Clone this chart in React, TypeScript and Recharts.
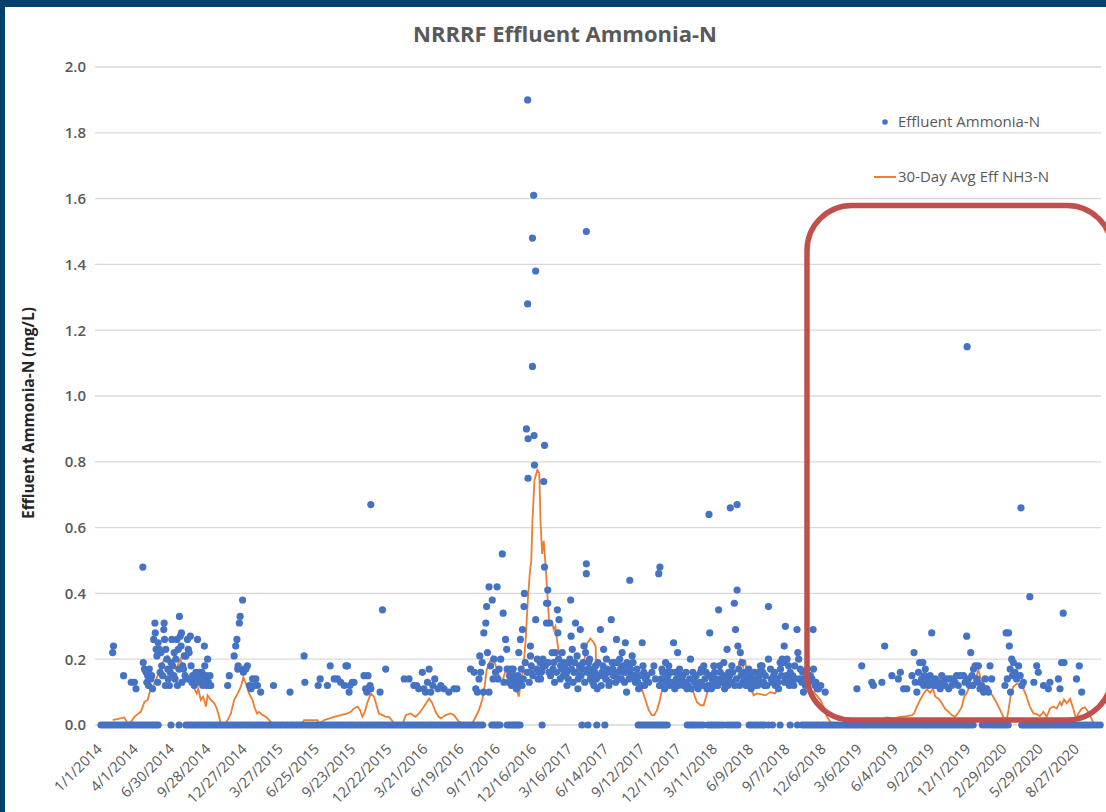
import React from "react";
import { ComposedChart, Scatter, Line, XAxis, YAxis, CartesianGrid, Legend } from "recharts";

// x = days since 1/1/2014, y = mg/L
const tickDays = [0, 90, 180, 270, 360, 450, 540, 630, 720, 810, 900, 990, 1080, 1170, 1260, 1350, 1440, 1530, 1620, 1710, 1800, 1890, 1980, 2070, 2160, 2250, 2340, 2430];
const tickLabels = ["1/1/2014", "4/1/2014", "6/30/2014", "9/28/2014", "12/27/2014", "3/27/2015", "6/25/2015", "9/23/2015", "12/22/2015", "3/21/2016", "6/19/2016", "9/17/2016", "12/16/2016", "3/16/2017", "6/14/2017", "9/12/2017", "12/11/2017", "3/11/2018", "6/9/2018", "9/7/2018", "12/6/2018", "3/6/2019", "6/4/2019", "9/2/2019", "12/1/2019", "2/29/2020", "5/29/2020", "8/27/2020"];
const yTicks = [0, 0.2, 0.4, 0.6, 0.8, 1.0, 1.2, 1.4, 1.6, 1.8, 2.0];

const zeroDays = [0, 12, 24, 36, 48, 60, 72, 84, 96, 108, 120, 131, 142, 174, 194,
  211, 223, 236, 248, 261, 273, 286, 298, 311, 323, 336, 348, 361, 373, 386, 398, 411, 423, 436, 448, 461, 473, 486, 498, 511, 523, 536, 548, 561, 573, 586, 598, 611, 623, 636, 648, 661, 673, 686, 698, 711, 723, 736, 748, 761, 773, 786, 798, 811, 823, 836, 848, 861, 873, 886, 898, 911, 923, 936, 949,
  972, 982, 992, 1010, 1022, 1032, 1042, 1097,
  1196, 1211, 1233, 1253,
  1336, 1348, 1360, 1372, 1384, 1396, 1408,
  1458, 1470, 1483, 1497, 1509, 1521, 1534, 1547, 1557, 1570, 1584,
  1612, 1625, 1638, 1650, 1670, 1689, 1714, 1732,
  1744, 1756, 1769, 1781, 1794, 1806, 1819, 1831, 1844, 1856, 1869, 1881, 1894, 1906, 1919, 1931, 1944, 1956, 1969, 1981, 1994, 2006, 2019, 2031, 2044, 2056, 2069, 2081, 2094, 2106, 2119, 2131, 2144, 2156, 2169, 2192, 2206, 2219, 2231, 2244, 2256, 2290, 2300, 2311, 2322, 2333, 2344, 2356, 2369, 2381, 2394, 2406, 2419, 2431, 2444, 2456, 2469, 2485];

const zeroDaysMore = [6, 18, 30, 42, 54, 66, 78, 90, 102, 114, 126, 137,
  217, 229, 242, 254, 267, 279, 292, 304, 317, 329, 342, 354, 367, 379, 392, 404, 417, 429, 442, 454, 467, 479, 492, 504, 517, 529, 542, 554, 567, 579, 592, 604, 617, 629, 642, 654, 667, 679, 692, 704, 717, 729, 742, 754, 767, 779, 792, 804, 817, 829, 842, 854, 867, 879, 892, 904, 917, 929, 942,
  977, 987, 1016, 1027, 1037,
  1342, 1354, 1366, 1378, 1390, 1402,
  1464, 1476, 1490, 1515, 1527, 1540, 1563, 1577,
  1618, 1631, 1644, 1660,
  1750, 1762, 1775, 1787, 1800, 1812, 1825, 1837, 1850, 1862, 1875, 1887, 1900, 1912, 1925, 1937, 1950, 1962, 1975, 1987, 2000, 2012, 2025, 2037, 2050, 2062, 2075, 2087, 2100, 2112, 2125, 2137, 2150, 2162, 2199, 2212, 2225, 2237, 2250, 2295, 2305, 2316, 2327, 2338, 2350, 2362, 2375, 2387, 2400, 2412, 2425, 2437, 2450, 2462, 2477];

const ammonia2014 = [[29,0.22],[31,0.24],[56,0.15],[75,0.13],[83,0.13],[87,0.11],[104,0.48],[105,0.19],[108,0.17],[112,0.16],[114,0.13],[116,0.15],[118,0.12],[120,0.17],[124,0.14],[126,0.15],[128,0.11],[131,0.26],[134,0.31],[135,0.28],[137,0.23],[139,0.21],[141,0.13],[142,0.25],[145,0.23],[147,0.16],[149,0.22],[151,0.18],[153,0.15],[156,0.29],[157,0.31],[158,0.26],[160,0.12],[161,0.23],[164,0.2],[166,0.17],[167,0.14],[170,0.12],[172,0.16],[174,0.19],[176,0.26],[178,0.18],[181,0.15],[182,0.22],[184,0.14],[186,0.2],[189,0.26],[190,0.12],[192,0.23],[194,0.17],[195,0.33],[197,0.27],[199,0.24],[200,0.28],[201,0.13],[203,0.18],[205,0.17],[207,0.21],[209,0.15],[211,0.21],[213,0.14],[215,0.26],[217,0.23],[219,0.22],[222,0.27],[224,0.18],[226,0.13],[228,0.15],[232,0.12],[234,0.14],[236,0.16],[240,0.26],[244,0.16],[246,0.13],[248,0.15],[251,0.16],[253,0.12],[255,0.14],[257,0.24],[258,0.18],[261,0.15],[263,0.12],[265,0.2],[267,0.13],[269,0.12],[271,0.15],[273,0.12],[315,0.12],[319,0.15],[331,0.21],[335,0.24],[338,0.26],[340,0.17],[341,0.18],[344,0.31],[346,0.33],[352,0.38],[354,0.16],[356,0.17],[360,0.17],[364,0.18]];

const ammonia2015 = [[369,0.12],[373,0.11],[377,0.14],[381,0.12],[385,0.14],[389,0.12],[397,0.1],[429,0.12],[470,0.1],[505,0.21],[507,0.13],[540,0.12],[545,0.14],[563,0.12],[570,0.18],[580,0.14],[588,0.14],[596,0.13],[605,0.12],[609,0.18],[613,0.18],[617,0.1],[619,0.12],[625,0.13],[629,0.13],[654,0.15],[658,0.11],[661,0.1],[664,0.15],[669,0.12],[671,0.11],[671,0.67],[694,0.1],[700,0.35],[708,0.17]];

const ammonia2016 = [[754,0.14],[766,0.14],[778,0.12],[785,0.12],[790,0.11],[799,0.16],[803,0.11],[807,0.1],[812,0.13],[816,0.17],[820,0.1],[825,0.12],[830,0.14],[838,0.11],[845,0.12],[853,0.11],[865,0.1],[878,0.11],[885,0.11],[919,0.17],[928,0.16],[932,0.11],[936,0.1],[940,0.14],[942,0.21],[944,0.16],[948,0.19],[951,0.1],[952,0.28],[957,0.31],[959,0.36],[961,0.22],[965,0.1],[965,0.42],[969,0.18],[973,0.38],[975,0.14],[977,0.2],[981,0.16],[985,0.42],[987,0.14],[990,0.17],[994,0.2],[998,0.52],[1000,0.34],[1002,0.13],[1006,0.26],[1009,0.23],[1010,0.17],[1014,0.13],[1016,0.15],[1019,0.17],[1021,0.12],[1023,0.13],[1025,0.17],[1027,0.15],[1029,0.14],[1031,0.12],[1033,0.11],[1035,0.13],[1037,0.15],[1039,0.22],[1041,0.13],[1043,0.26],[1045,0.17],[1047,0.12],[1048,0.29],[1050,0.14],[1052,0.36],[1053,0.4],[1055,0.19],[1058,0.9],[1060,0.16],[1061,1.9],[1061,1.28],[1062,0.87],[1062,0.75],[1065,0.13],[1068,0.24],[1068,0.21],[1068,0.16],[1070,0.18],[1073,1.48],[1073,1.09],[1074,0.15],[1076,1.61],[1077,0.88],[1078,0.79],[1081,1.38],[1081,0.32],[1083,0.17],[1085,0.2],[1087,0.14],[1089,0.16],[1092,0.19],[1093,0.14],[1095,0.16]];

const ammonia2017 = [[1097,0.17],[1099,0.2],[1101,0.74],[1103,0.85],[1103,0.48],[1105,0.18],[1108,0.37],[1108,0.31],[1111,0.41],[1111,0.37],[1112,0.19],[1114,0.16],[1116,0.31],[1118,0.15],[1122,0.22],[1124,0.17],[1126,0.19],[1128,0.13],[1130,0.22],[1133,0.16],[1135,0.35],[1136,0.28],[1138,0.2],[1139,0.32],[1142,0.14],[1143,0.18],[1146,0.17],[1147,0.22],[1150,0.15],[1151,0.19],[1154,0.18],[1155,0.15],[1158,0.16],[1159,0.12],[1162,0.14],[1164,0.19],[1166,0.2],[1168,0.38],[1169,0.27],[1170,0.17],[1172,0.23],[1174,0.13],[1176,0.16],[1178,0.19],[1180,0.31],[1182,0.16],[1184,0.21],[1186,0.11],[1187,0.14],[1190,0.18],[1192,0.29],[1194,0.15],[1197,0.17],[1199,0.19],[1201,0.24],[1203,0.13],[1205,0.22],[1207,0.46],[1207,0.49],[1207,1.5],[1209,0.16],[1211,0.17],[1213,0.19],[1215,0.2],[1217,0.14],[1219,0.15],[1221,0.17],[1223,0.13],[1226,0.12],[1228,0.16],[1230,0.18],[1232,0.14],[1234,0.11],[1236,0.19],[1240,0.15],[1242,0.29],[1244,0.12],[1246,0.16],[1248,0.18],[1250,0.23],[1252,0.15],[1255,0.14],[1257,0.2],[1259,0.17],[1261,0.16],[1263,0.12],[1265,0.13],[1269,0.32],[1271,0.19],[1273,0.17],[1275,0.15],[1277,0.19],[1280,0.13],[1282,0.26],[1284,0.19],[1286,0.16],[1288,0.14],[1290,0.2],[1292,0.17],[1294,0.14],[1296,0.22],[1298,0.18],[1300,0.16],[1302,0.13],[1304,0.25],[1306,0.16],[1307,0.1],[1308,0.19],[1311,0.18],[1313,0.14],[1315,0.44],[1317,0.17],[1319,0.15],[1321,0.21],[1323,0.19],[1325,0.15],[1327,0.14],[1329,0.13],[1331,0.15],[1333,0.17],[1335,0.13],[1337,0.11],[1340,0.15],[1344,0.12],[1346,0.25],[1348,0.18],[1350,0.16],[1352,0.12],[1354,0.14],[1358,0.15],[1362,0.13],[1370,0.16],[1375,0.18],[1379,0.14],[1387,0.46],[1389,0.12],[1390,0.48],[1391,0.12],[1393,0.14],[1395,0.17],[1397,0.16],[1400,0.14],[1402,0.11],[1404,0.19],[1406,0.13],[1408,0.16],[1410,0.15],[1412,0.18],[1414,0.12],[1416,0.13],[1418,0.16],[1422,0.13],[1424,0.25],[1427,0.11],[1429,0.16],[1431,0.14],[1434,0.22],[1436,0.12],[1439,0.17],[1441,0.15],[1444,0.13],[1447,0.15],[1449,0.12],[1452,0.13],[1455,0.16],[1457,0.11]];

const ammonia2018 = [[1460,0.12],[1464,0.14],[1466,0.2],[1468,0.11],[1472,0.16],[1474,0.14],[1476,0.13],[1480,0.15],[1482,0.12],[1485,0.11],[1489,0.13],[1491,0.16],[1493,0.17],[1497,0.12],[1499,0.18],[1502,0.14],[1505,0.16],[1507,0.11],[1510,0.12],[1512,0.64],[1514,0.28],[1516,0.15],[1518,0.11],[1520,0.14],[1522,0.13],[1524,0.18],[1526,0.16],[1528,0.12],[1530,0.14],[1534,0.12],[1536,0.35],[1538,0.18],[1540,0.16],[1542,0.13],[1544,0.14],[1547,0.15],[1549,0.19],[1551,0.11],[1553,0.12],[1555,0.14],[1557,0.23],[1559,0.12],[1561,0.16],[1563,0.15],[1565,0.66],[1567,0.13],[1569,0.18],[1571,0.16],[1575,0.37],[1576,0.12],[1578,0.29],[1580,0.14],[1582,0.67],[1582,0.41],[1584,0.24],[1586,0.17],[1588,0.12],[1590,0.22],[1592,0.15],[1594,0.19],[1596,0.13],[1598,0.16],[1600,0.16],[1602,0.14],[1604,0.12],[1607,0.12],[1609,0.14],[1611,0.17],[1613,0.15],[1617,0.11],[1619,0.14],[1621,0.13],[1625,0.16],[1627,0.12],[1629,0.14],[1633,0.12],[1636,0.16],[1638,0.15],[1640,0.18],[1642,0.13],[1644,0.18],[1646,0.16],[1648,0.13],[1650,0.12],[1652,0.15],[1656,0.12],[1660,0.36],[1660,0.2],[1665,0.17],[1667,0.14],[1669,0.13],[1673,0.15],[1675,0.16],[1677,0.12],[1681,0.14],[1683,0.13],[1685,0.11],[1689,0.19],[1690,0.17],[1692,0.15],[1694,0.2],[1698,0.19],[1699,0.24],[1700,0.13],[1702,0.3],[1704,0.15],[1706,0.2],[1708,0.14],[1710,0.18],[1712,0.12],[1714,0.16],[1718,0.13],[1720,0.15],[1723,0.12],[1725,0.18],[1727,0.14],[1731,0.29],[1733,0.22],[1735,0.2],[1737,0.14],[1739,0.17],[1743,0.13],[1745,0.16],[1747,0.1],[1750,0.14],[1752,0.12],[1756,0.17],[1760,0.13],[1764,0.15],[1768,0.14],[1771,0.29],[1772,0.17],[1776,0.12],[1778,0.13],[1781,0.11],[1785,0.11],[1790,0.12],[1801,0.1]];

const ammonia2019 = [[1880,0.11],[1892,0.18],[1917,0.13],[1921,0.12],[1942,0.13],[1949,0.24],[1967,0.15],[1983,0.14],[1988,0.16],[1996,0.11],[2004,0.11],[2017,0.15],[2022,0.22],[2025,0.13],[2029,0.1],[2033,0.16],[2036,0.19],[2038,0.13],[2041,0.14],[2044,0.19],[2046,0.12],[2048,0.15],[2050,0.17],[2054,0.14],[2056,0.13],[2058,0.12],[2062,0.15],[2066,0.28],[2069,0.13],[2071,0.12],[2075,0.14],[2079,0.12],[2083,0.13],[2087,0.11],[2091,0.15],[2095,0.13],[2099,0.12],[2104,0.14],[2108,0.11],[2112,0.14],[2116,0.12],[2120,0.14],[2124,0.13],[2128,0.15],[2132,0.12],[2137,0.15],[2141,0.1],[2145,0.15],[2149,0.13],[2153,0.27],[2154,1.15],[2157,0.14],[2160,0.12],[2163,0.22],[2166,0.15],[2168,0.12],[2170,0.17],[2174,0.18],[2178,0.14],[2180,0.13],[2182,0.18],[2186,0.11],[2190,0.12]];

const ammonia2020 = [[2195,0.1],[2199,0.14],[2203,0.11],[2207,0.1],[2211,0.18],[2215,0.14],[2248,0.12],[2251,0.28],[2254,0.14],[2257,0.28],[2259,0.24],[2261,0.17],[2262,0.1],[2265,0.2],[2267,0.15],[2269,0.19],[2273,0.16],[2277,0.14],[2282,0.18],[2286,0.15],[2288,0.66],[2290,0.12],[2294,0.13],[2310,0.39],[2320,0.13],[2327,0.18],[2331,0.16],[2344,0.12],[2356,0.11],[2360,0.13],[2381,0.14],[2385,0.11],[2389,0.19],[2393,0.34],[2395,0.19],[2426,0.14],[2433,0.18],[2439,0.1]];

const avg30 = [[29,0.015],[58,0.023],[66,0.005],[75,0.01],[83,0.025],[91,0.033],[99,0.04],[108,0.07],[116,0.076],[120,0.096],[126,0.11],[134,0.13],[141,0.15],[149,0.177],[157,0.2],[166,0.21],[172,0.2],[178,0.18],[186,0.17],[190,0.18],[197,0.2],[203,0.18],[211,0.16],[219,0.14],[226,0.12],[232,0.11],[238,0.096],[242,0.11],[248,0.076],[254,0.086],[261,0.056],[265,0.09],[273,0.076],[282,0.066],[288,0.05],[298,0.005],[306,0],[315,0.015],[323,0.035],[331,0.076],[340,0.096],[348,0.117],[354,0.145],[360,0.127],[368,0.096],[377,0.076],[381,0.056],[388,0.035],[393,0.04],[402,0.03],[410,0.025],[418,0.015],[426,0.005],[435,0],[497,0],[505,0.015],[538,0.015],[542,0.003],[555,0.015],[580,0.025],[596,0.03],[613,0.035],[621,0.04],[629,0.05],[638,0.056],[644,0.046],[650,0.025],[656,0.04],[662,0.066],[671,0.096],[679,0.086],[686,0.056],[691,0.035],[700,0.03],[708,0.025],[716,0.025],[729,0.005],[737,0],[749,0],[758,0.03],[770,0.035],[782,0.025],[791,0.035],[803,0.056],[816,0.08],[824,0.066],[832,0.04],[840,0.025],[845,0.02],[857,0.03],[870,0.035],[878,0.03],[890,0.01],[903,0.003],[923,0.005],[932,0.025],[940,0.046],[948,0.076],[954,0.117],[959,0.167],[965,0.187],[973,0.208],[980,0.187],[985,0.167],[992,0.14],[998,0.13],[1004,0.157],[1009,0.167],[1014,0.157],[1023,0.137],[1031,0.12],[1039,0.086],[1043,0.117],[1050,0.167],[1056,0.258],[1062,0.39],[1067,0.47],[1070,0.5],[1073,0.62],[1078,0.745],[1085,0.775],[1090,0.765],[1093,0.62],[1097,0.52],[1101,0.56],[1106,0.48],[1110,0.4],[1114,0.32],[1122,0.31],[1126,0.29],[1130,0.3],[1136,0.24],[1141,0.21],[1147,0.187],[1155,0.177],[1164,0.167],[1172,0.177],[1180,0.167],[1188,0.177],[1197,0.177],[1202,0.198],[1209,0.248],[1217,0.263],[1224,0.253],[1230,0.24],[1232,0.157],[1238,0.147],[1246,0.157],[1255,0.13],[1263,0.14],[1271,0.157],[1279,0.162],[1288,0.167],[1296,0.177],[1304,0.167],[1313,0.157],[1321,0.162],[1329,0.157],[1337,0.147],[1346,0.106],[1354,0.076],[1362,0.046],[1370,0.03],[1376,0.03],[1383,0.046],[1390,0.076],[1395,0.106],[1401,0.127],[1408,0.13],[1416,0.137],[1424,0.127],[1433,0.13],[1441,0.137],[1449,0.13],[1457,0.127],[1466,0.117],[1474,0.096],[1482,0.07],[1491,0.06],[1499,0.06],[1507,0.096],[1515,0.117],[1524,0.13],[1532,0.13],[1540,0.137],[1549,0.127],[1557,0.13],[1565,0.147],[1573,0.157],[1582,0.167],[1590,0.198],[1597,0.177],[1602,0.198],[1608,0.137],[1615,0.117],[1623,0.09],[1631,0.096],[1640,0.094],[1652,0.09],[1665,0.1],[1677,0.096],[1690,0.127],[1702,0.152],[1714,0.157],[1727,0.137],[1739,0.13],[1752,0.127],[1764,0.11],[1776,0.096],[1789,0.076],[1799,0.05],[1805,0.025],[1814,0.01],[1822,0],[1934,0],[1942,0.017],[1954,0.023],[1971,0.02],[1988,0.025],[2004,0.027],[2017,0.03],[2022,0.035],[2029,0.056],[2037,0.076],[2046,0.096],[2054,0.108],[2062,0.098],[2069,0.11],[2075,0.086],[2083,0.08],[2091,0.066],[2099,0.05],[2108,0.04],[2116,0.03],[2124,0.025],[2132,0.037],[2141,0.056],[2147,0.086],[2153,0.096],[2160,0.117],[2166,0.127],[2174,0.137],[2182,0.167],[2188,0.142],[2195,0.122],[2203,0.117],[2211,0.1],[2219,0.086],[2228,0.066],[2236,0.046],[2244,0.025],[2251,0.005],[2257,0.046],[2262,0.086],[2269,0.117],[2277,0.125],[2286,0.122],[2294,0.11],[2302,0.086],[2310,0.056],[2319,0.035],[2327,0.033],[2335,0.027],[2344,0.04],[2352,0.025],[2360,0.05],[2368,0.056],[2377,0.05],[2385,0.07],[2389,0.06],[2395,0.078],[2402,0.066],[2410,0.08],[2418,0.05],[2425,0.02],[2431,0.035],[2439,0.05],[2447,0.054],[2455,0.04],[2464,0.017],[2468,0.005],[2476,0]];

const toRows = (pairs: number[][]) => pairs.map(([day, value]) => ({ day, value }));
const scatterRows = [
  ...zeroDays.map((day) => ({ day, value: 0 })),
  ...zeroDaysMore.map((day) => ({ day, value: 0 })),
  ...toRows(ammonia2014), ...toRows(ammonia2015), ...toRows(ammonia2016),
  ...toRows(ammonia2017), ...toRows(ammonia2018), ...toRows(ammonia2019), ...toRows(ammonia2020),
];
const avgRows = toRows(avg30);

const FONT = "'Open Sans', 'DejaVu Sans', sans-serif";
const BLUE = "#4472C4";
const ORANGE = "#ED7D31";

const XTick = (props: any) => {
  const { x, y, payload } = props;
  const i = tickDays.indexOf(payload.value);
  const label = i >= 0 ? tickLabels[i] : "";
  const tx = x + 2;
  const ty = y + 25;
  return (
    <text x={tx} y={ty} transform={`rotate(-45 ${tx} ${ty})`} textAnchor="end" fill="#595959" fontSize={14.5} fontFamily={FONT}>
      {label}
    </text>
  );
};

const Dot = (props: any) => {
  const { cx, cy } = props;
  if (cx == null || cy == null) return null;
  return <circle cx={cx} cy={cy} r={3.6} fill={BLUE} />;
};

const LegendBox = () => (
  <svg width={240} height={90} style={{ display: "block" }}>
    <circle cx={19} cy={17} r={2.8} fill={BLUE} />
    <text x={32} y={22} fontSize={15} fill="#595959" fontFamily={FONT}>Effluent Ammonia-N</text>
    <line x1={8} x2={30} y1={72} y2={72} stroke={ORANGE} strokeWidth={2} />
    <text x={32} y={77} fontSize={15} fill="#595959" fontFamily={FONT}>30-Day Avg Eff NH3-N</text>
  </svg>
);

export default function App() {
  return (
    <div style={{ position: "absolute", left: 0, top: 0, width: 1106, height: 812, background: "#03416D", overflow: "hidden" }}>
      <div style={{ position: "absolute", left: 5, top: 7, width: 1101, height: 805, background: "#ffffff" }} />
      <div style={{ position: "absolute", left: 0, top: 0 }}>
        <ComposedChart width={1106} height={812} margin={{ top: 67, right: 5, bottom: 0, left: 0 }}>
          <CartesianGrid vertical={false} stroke="#D9D9D9" strokeWidth={1.3} />
          <XAxis
            type="number"
            dataKey="day"
            domain={[-15, 2487]}
            ticks={tickDays}
            interval={0}
            tickLine={false}
            axisLine={false}
            tickSize={0}
            tickMargin={0}
            height={87}
            tick={<XTick />}
          />
          <YAxis
            type="number"
            dataKey="value"
            domain={[0, 2]}
            ticks={yTicks}
            width={95}
            tickLine={false}
            axisLine={false}
            tickSize={0}
            tickMargin={9}
            tickFormatter={(v: number) => v.toFixed(1)}
            tick={{ fill: "#595959", fontSize: 15, fontWeight: 600, fontFamily: FONT }}
          />
          <Legend
            layout="vertical"
            align="center"
            verticalAlign="middle"
            content={() => <LegendBox />}
            wrapperStyle={{ position: "absolute", left: 866, top: 105, width: 240, height: 90 }}
          />
          <Scatter name="Effluent Ammonia-N" data={scatterRows} dataKey="value" fill={BLUE} shape={<Dot />} isAnimationActive={false} />
          <Line name="30-Day Avg Eff NH3-N" data={avgRows} dataKey="value" type="linear" stroke={ORANGE} strokeWidth={1.8} dot={false} activeDot={false} isAnimationActive={false} />
        </ComposedChart>
      </div>
      <svg width={1106} height={812} style={{ position: "absolute", left: 0, top: 0, pointerEvents: "none" }}>
        <text x={565} y={42} textAnchor="middle" fontSize={22} fontWeight={700} fill="#595959" fontFamily={FONT}>
          NRRRF Effluent Ammonia-N
        </text>
        <text x={28} y={413} transform="rotate(-90 28 413)" textAnchor="middle" dominantBaseline="central" fontSize={15.5} fontWeight={700} fill="#262626" fontFamily={FONT}>
          Effluent Ammonia-N (mg/L)
        </text>
        <rect x={807} y={205.5} width={305} height={514.5} rx={45} ry={45} fill="none" stroke="#C0504D" strokeWidth={5.5} />
      </svg>
    </div>
  );
}
